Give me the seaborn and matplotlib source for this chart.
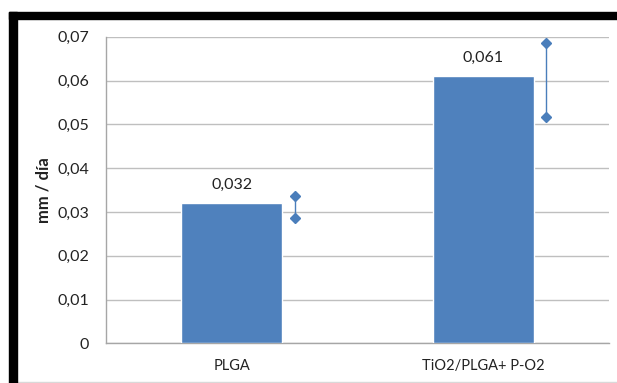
import matplotlib
matplotlib.use("Agg")
import matplotlib.pyplot as plt
from matplotlib.ticker import FuncFormatter, MultipleLocator
from matplotlib.patches import Rectangle
from matplotlib.lines import Line2D
import seaborn as sns
import pandas as pd
import numpy as np

categories = ["PLGA", "TiO2/PLGA+ P-O2"]
values = [0.032, 0.061]
err_low = [0.0285, 0.0517]
err_high = [0.0336, 0.0685]
value_labels = ["0,032", "0,061"]

sns.set_theme(style="white")
plt.rcParams["font.family"] = ["Lato", "DejaVu Sans"]

W, H = 617, 383
fig = plt.figure(figsize=(W / 100, H / 100), dpi=100)
ax = fig.add_axes([106 / W, 1 - 343.3 / H, (609 - 106) / W, (343.3 - 36.7) / H])

df = pd.DataFrame({"cat": categories, "val": values})
bar_color = "#4F81BD"
sns.barplot(data=df, x="cat", y="val", color=bar_color, saturation=1,
            width=0.40, ax=ax, zorder=3)

# error range drawn beside each bar
xpos = np.arange(len(categories)) + 0.25
for x, lo, hi in zip(xpos, err_low, err_high):
    ax.plot([x, x], [lo, hi], color="#4A7EBB", lw=1, zorder=4)
    ax.plot([x, x], [lo, hi], ls="none", marker="D", ms=5,
            color="#4A7EBB", zorder=5)

for i, (v, t) in enumerate(zip(values, value_labels)):
    ax.annotate(t, (i, v), xytext=(0, 8), textcoords="offset points",
                ha="center", va="bottom", fontsize=11.5, color="#222222")

ax.set_ylim(0, 0.07)
ax.set_xlim(-0.5, 1.5)
ax.yaxis.set_major_locator(MultipleLocator(0.01))
ax.yaxis.set_major_formatter(FuncFormatter(
    lambda v, p: "0" if abs(v) < 1e-9 else f"{v:.2f}".replace(".", ",")))
ax.grid(axis="y", color="#BFBFBF", lw=1, zorder=0)
ax.set_axisbelow(True)
for s in ["top", "right"]:
    ax.spines[s].set_visible(False)
for s in ["left", "bottom"]:
    ax.spines[s].set_color("#A6A6A6")
    ax.spines[s].set_linewidth(1)
ax.tick_params(axis="y", length=0, labelsize=11.5, colors="#222222", pad=12)
ax.tick_params(axis="x", length=0, labelsize=10.5, colors="#222222", pad=11)
ax.set_xlabel("")
ax.set_ylabel("mm / día", fontsize=12, fontweight="bold", color="#222222",
              labelpad=4)

# frame around the figure
fig.patches.append(Rectangle((9 / W, 1 - 19.3 / H), (W - 9) / W, 7.6 / H,
                             transform=fig.transFigure, color="black",
                             zorder=10))
fig.patches.append(Rectangle((9 / W, 0), 7.7 / W, 1 - 11.7 / H,
                             transform=fig.transFigure, color="black",
                             zorder=10))
fig.lines.append(Line2D([17 / W, 1], [1 - 382 / H, 1 - 382 / H],
                        transform=fig.transFigure, color="#D9D9D9", lw=1))

fig.savefig("out.png", dpi=100)
